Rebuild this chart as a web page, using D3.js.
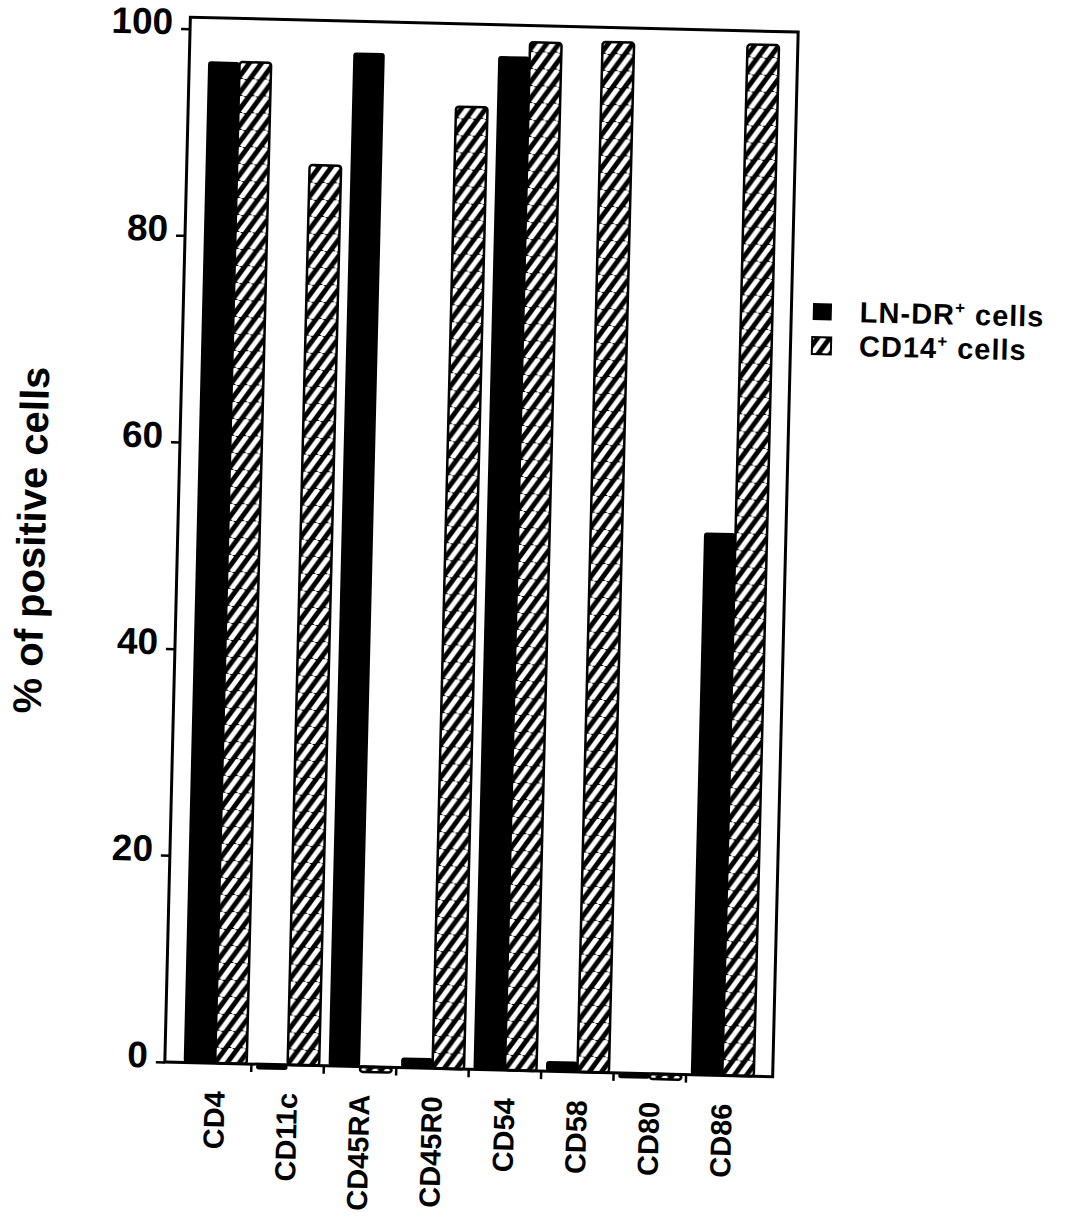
<!DOCTYPE html>
<html>
<head>
<meta charset="utf-8">
<script src="https://cdn.jsdelivr.net/npm/d3@7"></script>
<style>
  body { margin: 0; background: #fff; }
  svg text { font-family: "Liberation Sans", Arial, sans-serif; font-weight: bold; fill: #000; }
</style>
</head>
<body>
<div id="chart"></div>
<script>
const categories = ["CD4", "CD11c", "CD45RA", "CD45R0", "CD54", "CD58", "CD80", "CD86"];
const lnDrCells = [96.9, -0.5, 98.1, 1.0, 98.1, 1.0, -0.5, 52.5];
const cd14Cells = [96.9, 87.1, -0.5, 93.1, 99.5, 99.7, -0.5, 99.8];
const seriesNames = ["LN-DR", "CD14"];
const yTicks = [0, 20, 40, 60, 80, 100];

const width = 1075, height = 1226;
const frame = { left: 177.5, top: 24.5, right: 785.5, bottom: 1069.5 };
// the scanned figure sits a little turned
const tilt = 1.4, tiltX = 481.5, tiltY = 547;

const svg = d3.select("#chart")
    .append("svg")
    .attr("width", width)
    .attr("height", height);

const defs = svg.append("defs");
const hatch = defs.append("pattern")
    .attr("id", "hatch")
    .attr("patternUnits", "userSpaceOnUse")
    .attr("width", 12)
    .attr("height", 17);
hatch.append("rect").attr("width", 12).attr("height", 17).attr("fill", "#000");
hatch.append("path")
    .attr("d", "M-12,17 L0,0 M0,17 L12,0 M12,17 L24,0")
    .attr("stroke", "#fff")
    .attr("stroke-width", 5);

const chart = svg.append("g")
    .attr("transform", `rotate(${tilt},${tiltX},${tiltY})`);

const x0 = d3.scaleBand()
    .domain(categories)
    .range([frame.left, frame.right])
    .paddingInner(0.13)
    .paddingOuter(0.26);

const x1 = d3.scaleBand()
    .domain(seriesNames)
    .range([0, x0.bandwidth()]);

const y = d3.scaleLinear()
    .domain([0, 100])
    .range([frame.bottom, 36]);

const rows = categories.map((c, i) => ({ cat: c, values: [lnDrCells[i], cd14Cells[i]] }));

const groups = chart.selectAll("g.group")
    .data(rows)
    .join("g")
    .attr("class", "group")
    .attr("transform", d => `translate(${x0(d.cat)},0)`);

groups.selectAll("rect")
    .data(d => d.values.map((v, k) => ({ key: seriesNames[k], value: v })))
    .join("rect")
    .attr("x", d => x1(d.key))
    .attr("y", d => Math.min(y(d.value), y(0)))
    .attr("width", x1.bandwidth())
    .attr("height", d => Math.abs(y(0) - y(d.value)))
    .attr("rx", 3)
    .attr("fill", d => d.key === "CD14" ? "url(#hatch)" : "#000")
    .attr("stroke", "#000")
    .attr("stroke-width", d => d.key === "CD14" ? 2.5 : 0);

// frame
chart.append("rect")
    .attr("x", frame.left)
    .attr("y", frame.top)
    .attr("width", frame.right - frame.left)
    .attr("height", frame.bottom - frame.top)
    .attr("fill", "none")
    .attr("stroke", "#000")
    .attr("stroke-width", 3);

// y axis
const yAxis = chart.append("g")
    .attr("transform", `translate(${frame.left},0)`)
    .call(d3.axisLeft(y).tickValues(yTicks).tickSize(9).tickPadding(8));
yAxis.select(".domain").remove();
yAxis.selectAll(".tick line").attr("stroke", "#000").attr("stroke-width", 2.5);
yAxis.selectAll(".tick text")
    .attr("font-size", 37)
    .attr("dy", "0.15em")
    .style("font-family", "'Liberation Sans', Arial, sans-serif")
    .style("font-weight", "bold");

// x ticks between the groups
const bounds = categories.slice(1).map(c => x0(c) - x0.step() * x0.paddingInner() / 2);
chart.selectAll("line.xtick")
    .data(bounds)
    .join("line")
    .attr("class", "xtick")
    .attr("x1", d => d).attr("x2", d => d)
    .attr("y1", frame.bottom).attr("y2", frame.bottom + 8)
    .attr("stroke", "#000")
    .attr("stroke-width", 2.5);

// x labels
chart.selectAll("text.xlabel")
    .data(categories)
    .join("text")
    .attr("class", "xlabel")
    .attr("transform", d => `translate(${x0(d) + x0.bandwidth() / 2},${frame.bottom + 28}) rotate(-90)`)
    .attr("text-anchor", "end")
    .attr("dy", "0.35em")
    .attr("font-size", 29)
    .text(d => d);

// y title
chart.append("text")
    .attr("transform", "translate(31,551) rotate(-90)")
    .attr("text-anchor", "middle")
    .attr("dy", "0.35em")
    .attr("font-size", 40)
    .text("% of positive cells");

// legend
const legendLabels = ["LN-DR", "CD14"];
const legend = chart.selectAll("g.legend")
    .data(seriesNames)
    .join("g")
    .attr("class", "legend")
    .attr("transform", (d, i) => `translate(807,${295 + i * 34})`);

legend.append("rect")
    .attr("width", 19)
    .attr("height", 17)
    .attr("fill", d => d === "CD14" ? "url(#hatch)" : "#000")
    .attr("stroke", "#000")
    .attr("stroke-width", d => d === "CD14" ? 2 : 0);

const legendText = legend.append("text")
    .attr("x", 47)
    .attr("y", 18)
    .attr("font-size", 29)
    .attr("letter-spacing", 1);
legendText.append("tspan").text((d, i) => legendLabels[i]);
legendText.append("tspan").attr("font-size", 17).attr("dy", -11).text("+");
legendText.append("tspan").attr("dy", 11).text(" cells");
</script>
</body>
</html>
